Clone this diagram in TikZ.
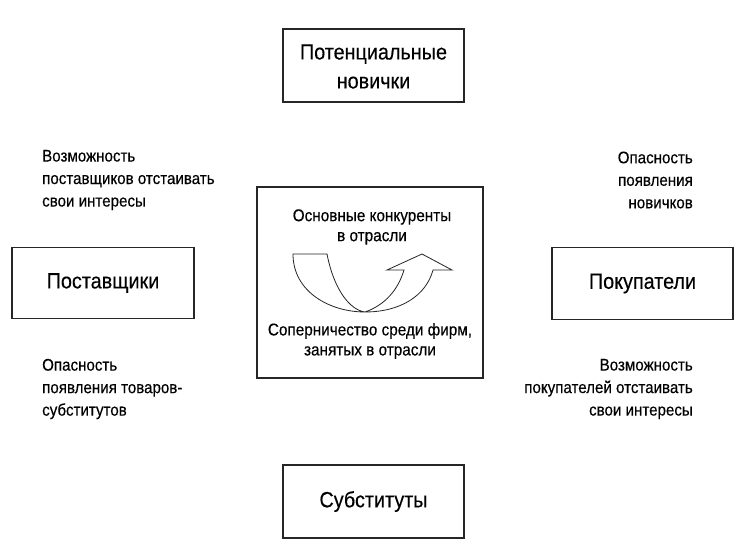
\documentclass[tikz,border=0pt]{standalone}
\usepackage{fontspec}
\setmainfont{Liberation Sans}[FakeStretch=0.9, FakeBold=0.3]
\begin{document}
\begin{tikzpicture}[x=1pt,y=-1pt,
  box/.style={draw=black!85, line width=1.3pt, fill=white, inner sep=0pt},
  bigtxt/.style={font=\fontsize{22}{29}\selectfont, align=center},
  sidetxt/.style={font=\fontsize{16.8}{22.5}\selectfont, inner sep=0pt},
  midtxt/.style={font=\fontsize{17}{20}\selectfont, align=center, inner sep=0pt},
  ribbon/.style={draw=black!85, line width=0.8pt, fill=white, line join=miter}]
\useasboundingbox[fill=white] (0,0) rectangle (745,556);
% boxes
\node[box, minimum width=181pt, minimum height=73pt] (top) at (373.5,65.5) {};
\node[bigtxt] (toptxt) at (373.5,66.5) {Потенциальные\\новички};
\node[box, minimum width=226pt, minimum height=191pt] (mid) at (370,282.5) {};
\node[box, minimum width=182pt, minimum height=71pt] (left) at (103,283) {};
\node[bigtxt] (lefttxt) at (left.center) {Поставщики};
\node[box, minimum width=181pt, minimum height=72pt] (right) at (642.5,283.5) {};
\node[bigtxt] (righttxt) at (right.center) {Покупатели};
\node[box, minimum width=181pt, minimum height=73pt] (bot) at (373.5,501.5) {};
\node[bigtxt] (bottxt) at (bot.center) {Субституты};
% side texts
\node[sidetxt, anchor=west, align=left] (tl) at (42,180) {Возможность\\поставщиков отстаивать\\свои интересы};
\node[sidetxt, anchor=east, align=right] (tr) at (693,180) {Опасность\\появления\\новичков};
\node[sidetxt, anchor=west, align=left] (bl) at (42,389) {Опасность\\появления товаров-\\субститутов};
\node[sidetxt, anchor=east, align=right] (br) at (693,389) {Возможность\\покупателей отстаивать\\свои интересы};
% center texts
\node[midtxt] (m1) at (372,227) {Основные конкуренты\\в отрасли};
\node[midtxt] (m2) at (370,341) {Соперничество среди фирм,\\занятых в отрасли};
% ribbon arrow
\path[ribbon] (293,254) -- (327,254)
  .. controls (334,290) and (350,310) .. (365,312)
  .. controls (400,312) and (426,296) .. (433,270)
  -- (452,270) -- (422,254) -- (387,270) -- (404,270)
  .. controls (398,290) and (385,305) .. (365,312)
  .. controls (330,312) and (293,292) .. cycle;
\end{tikzpicture}
\end{document}
